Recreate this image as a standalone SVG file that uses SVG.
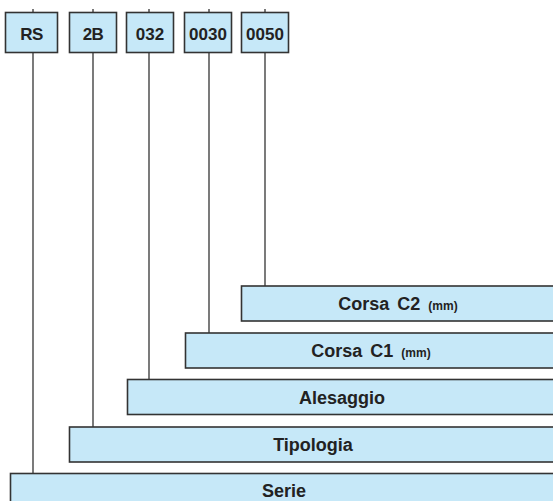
<svg xmlns="http://www.w3.org/2000/svg" width="553" height="501" viewBox="0 0 553 501">
<style>
.box{fill:#c6e8f8;stroke:#333;stroke-width:1.6}
.ln{stroke:#333;stroke-width:1.3;fill:none}
.t{font-family:"Liberation Sans",Arial,sans-serif;font-weight:bold;font-size:17px;fill:#222;text-anchor:middle}
.b{font-size:18px;word-spacing:3px}
.s{font-size:12px;word-spacing:0}
</style>
<rect width="553" height="501" fill="#fff"/>
<g id="connectors">
<line class="ln" x1="33" y1="9" x2="33" y2="473"/>
<line class="ln" x1="93" y1="9" x2="93" y2="427"/>
<line class="ln" x1="149" y1="9" x2="149" y2="379"/>
<line class="ln" x1="209" y1="9" x2="209" y2="333"/>
<line class="ln" x1="265" y1="9" x2="265" y2="286"/>
</g>
<g id="code-rs"><rect class="box" x="5.5" y="12.5" width="52" height="40"/><text class="t" x="31.5" y="40" letter-spacing="-0.5">RS</text></g>
<g id="code-2b"><rect class="box" x="69.5" y="12.5" width="47" height="40"/><text class="t" x="93" y="40" letter-spacing="-0.5">2B</text></g>
<g id="code-032"><rect class="box" x="126.5" y="12.5" width="47" height="40"/><text class="t" x="150" y="40">032</text></g>
<g id="code-0030"><rect class="box" x="184.5" y="12.5" width="47" height="40"/><text class="t" x="208" y="40">0030</text></g>
<g id="code-0050"><rect class="box" x="241.5" y="12.5" width="47" height="40"/><text class="t" x="265" y="40">0050</text></g>
<g id="corsa-c2"><rect class="box" x="241.5" y="286" width="320" height="35"/><text class="t b" x="398" y="309.5">Corsa C2 <tspan class="s">(mm)</tspan></text></g>
<g id="corsa-c1"><rect class="box" x="185.5" y="333" width="376" height="35"/><text class="t b" x="371" y="356.5">Corsa C1 <tspan class="s">(mm)</tspan></text></g>
<g id="alesaggio"><rect class="box" x="127.5" y="379.5" width="434" height="35"/><text class="t b" x="342" y="403.5">Alesaggio</text></g>
<g id="tipologia"><rect class="box" x="69.5" y="427" width="492" height="35"/><text class="t b" x="313" y="450.5">Tipologia</text></g>
<g id="serie"><rect class="box" x="10.5" y="473.5" width="551" height="40"/><text class="t b" x="284" y="497">Serie</text></g>
</svg>
